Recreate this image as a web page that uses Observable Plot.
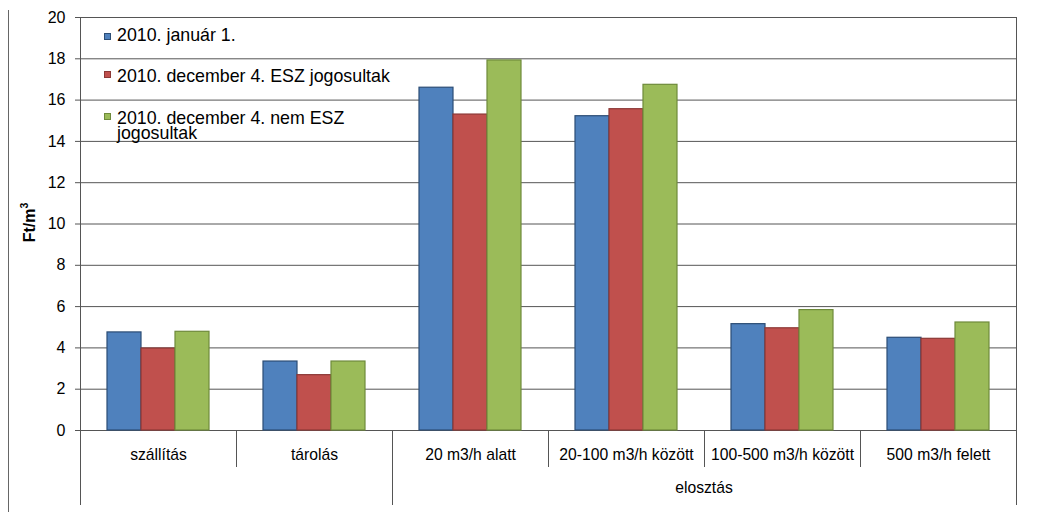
<!DOCTYPE html>
<html><head><meta charset="utf-8">
<script src="https://cdn.jsdelivr.net/npm/d3@7"></script>
<script src="https://cdn.jsdelivr.net/npm/@observablehq/plot@0.6"></script>
<style>
body{margin:0;background:#fff;font-family:"Liberation Sans",Arial,sans-serif;}
#wrap{position:relative;width:1041px;height:512px;overflow:hidden;background:#fff;}
#wrap svg{position:absolute;left:0;top:0;}
.leg{position:absolute;font-size:17.8px;color:#000;line-height:15.5px;width:292px;white-space:normal;}
.sw{position:absolute;width:7px;height:7px;box-sizing:border-box;}
.border{position:absolute;left:8px;top:10px;bottom:0;border-left:1px solid #666;}
</style></head><body><div id="wrap"><div class="border"></div></div>
<script>
const categories = ["szállítás","tárolás","20 m3/h alatt","20-100 m3/h között","100-500 m3/h között","500 m3/h felett"];
const groupLabels = ["", "", "elosztás","elosztás","elosztás","elosztás"];
const seriesNames = ["2010. január 1.","2010. december 4. ESZ jogosultak","2010. december 4. nem ESZ jogosultak"];
const jan1 = [4.75, 3.34, 16.6, 15.22, 5.15, 4.49];
const dec4Esz = [3.97, 2.68, 15.3, 15.56, 4.95, 4.44];
const dec4NemEsz = [4.78, 3.34, 17.92, 16.74, 5.83, 5.23];
const yTicks = [0,2,4,6,8,10,12,14,16,18,20];
const yLabelBase = "Ft/m";
const yLabelSup = "3";
const fills = ["#4F81BD","#C0504D","#9BBB59"];
const strokes = ["#2C4D75","#8C3836","#6E8A3B"];

const seriesValues = [jan1, dec4Esz, dec4NemEsz];
const data = categories.flatMap((c,i)=>seriesNames.map((s,j)=>({category:c, series:s, value:seriesValues[j][i]})));

const chart = Plot.plot({
  width:1041, height:512,
  marginLeft:78, marginRight:23, marginTop:17, marginBottom:82,
  style:{fontFamily:"'Liberation Sans', Arial, sans-serif", fontSize:"16px", color:"#000", background:"transparent", overflow:"visible"},
  fx:{domain:categories, padding:0},
  x:{domain:seriesNames, paddingInner:0, paddingOuter:0.74, axis:null},
  y:{domain:[0,20]},
  marks:[
    Plot.gridY(yTicks, {stroke:"#555", strokeOpacity:1}),
    ...seriesNames.map((s,j)=>Plot.barY(data.filter(d=>d.series===s), {
      fx:"category", x:"series", y:"value", fill:fills[j], stroke:strokes[j], strokeWidth:1.2, inset:0
    })),
    Plot.axisY(yTicks, {tickSize:5, tickPadding:10, fontSize:16, label:null, stroke:"#555"}),
    Plot.axisFx({anchor:"bottom", tickSize:0, tickPadding:18, fontSize:15.7, label:null})
  ]
});
document.getElementById("wrap").appendChild(chart);

const svg = d3.select(chart);
const fx = chart.scale("fx");
const y = chart.scale("y");
const bw = fx.bandwidth;
const yTop = y.apply(20), yBase = y.apply(0);
const shortBottom = 467, longBottom = 505;
const g = svg.append("g").attr("stroke","#555").attr("stroke-width",1).attr("shape-rendering","crispEdges");
categories.forEach((c,i)=>{
  const x0 = fx.apply(c);
  const groupEdge = i===0 || groupLabels[i]!==groupLabels[i-1];
  g.append("line").attr("x1",x0).attr("x2",x0)
   .attr("y1", i===0 ? yTop : yBase).attr("y2", groupEdge ? longBottom : shortBottom);
});
const xRight = fx.apply(categories[categories.length-1]) + bw;
g.append("line").attr("x1",xRight).attr("x2",xRight).attr("y1",yTop).attr("y2",longBottom);

// group labels
const groups = [];
groupLabels.forEach((l,i)=>{
  if (i===0 || l!==groupLabels[i-1]) groups.push({label:l, start:i, end:i});
  else groups[groups.length-1].end = i;
});
groups.forEach(gr=>{
  if (!gr.label) return;
  const xm = (fx.apply(categories[gr.start]) + fx.apply(categories[gr.end]) + bw)/2;
  svg.append("text").attr("x",xm).attr("y",493).attr("text-anchor","middle")
    .attr("font-size",15.7).attr("fill","#000").text(gr.label);
});

// y label
const yl = svg.append("text")
  .attr("transform",`translate(35,${(yTop+yBase)/2 - 1}) rotate(-90)`)
  .attr("text-anchor","middle").attr("font-weight","bold").attr("font-size",16)
  .attr("fill","#000");
yl.append("tspan").text(yLabelBase);
yl.append("tspan").attr("font-size",10.5).attr("dy",-7).text(yLabelSup);

// legend (HTML overlay)
const wrap = document.getElementById("wrap");
const legTops = [28.2, 68.9, 110.5];
const swTops = [32.5, 70.5, 112.5];
seriesNames.forEach((s,j)=>{
  const sw = document.createElement("div");
  sw.className="sw"; sw.style.left="104px"; sw.style.top=swTops[j]+"px";
  sw.style.background=fills[j]; sw.style.border="1px solid "+strokes[j];
  wrap.appendChild(sw);
  const t = document.createElement("div");
  t.className="leg"; t.style.left="117px"; t.style.top=legTops[j]+"px";
  t.textContent=s;
  wrap.appendChild(t);
});
</script></body></html>
